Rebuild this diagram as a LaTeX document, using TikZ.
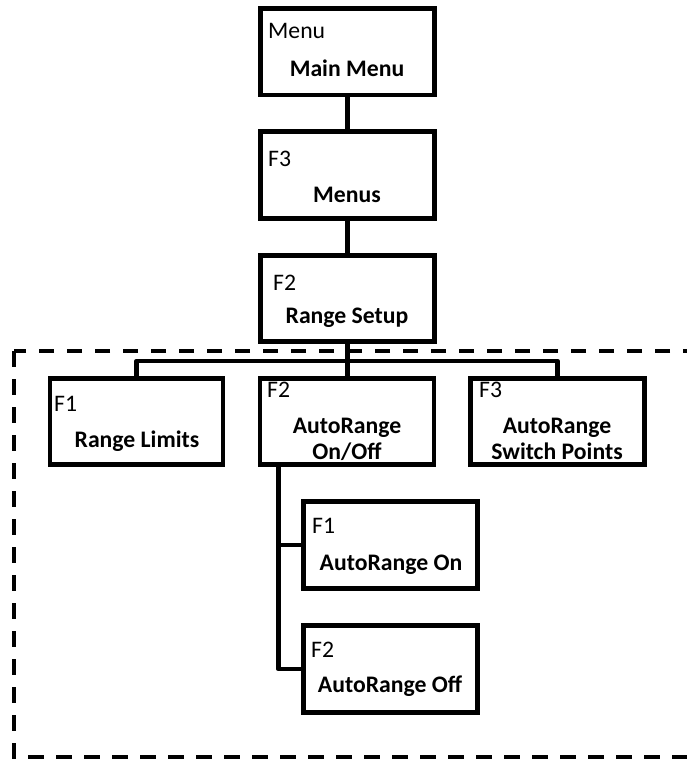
\documentclass[tikz,border=0pt]{standalone}
\usepackage{fontspec}
\setmainfont{Carlito}
\usetikzlibrary{calc}
\tikzset{
  box/.style={draw, line width=4.6pt, rectangle, minimum width=174pt, minimum height=86.5pt, inner sep=0pt},
  link/.style={line width=4.6pt, line join=round},
  frame/.style={line width=4pt, dash pattern=on 15.5pt off 12.5pt},
  tag/.style={anchor=base west, inner sep=0pt, font=\fontsize{23.7}{26}\selectfont},
  title/.style={anchor=base, inner sep=0pt, align=center, font=\fontsize{23.7}{26}\selectfont\bfseries},
}
\begin{document}
\begin{tikzpicture}[x=1pt, y=-1pt]
\useasboundingbox (0,0) rectangle (687,762);
% dashed frame
\draw[frame] (14,351) rectangle (720,757);
% boxes
\node[box] (mm) at (347.2,51.7) {};
\node[box] (menus) at (347.2,175) {};
\node[box] (rs) at (347.2,298.5) {};
\node[box, minimum width=173pt] (c1) at (136.5,421.5) {};
\node[box] (c2) at (347,421.5) {};
\node[box] (c3) at (557.5,421.5) {};
\node[box] (s1) at (390.5,545) {};
\node[box] (s2) at (390.5,669) {};
% texts
\node[tag] (mmT) at (268,39) {Menu};
\node[title] (mmN) at (347,77) {Main Menu};
\node[tag] (menusT) at (268,167) {F3};
\node[title] (menusN) at (347,202) {Menus};
\node[tag] (rsT) at (273,290) {F2};
\node[title] (rsN) at (347,323) {Range Setup};
\node[tag] (c1T) at (54,411) {F1};
\node[title] (c1N) at (137,447) {Range Limits};
\node[tag] (c2T) at (267,397) {F2};
\node[title] (c2N) at (347,459) {AutoRange\\On/Off};
\node[tag] (c3T) at (479,397) {F3};
\node[title] (c3N) at (557,459) {AutoRange\\Switch Points};
\node[tag] (s1T) at (312,533) {F1};
\node[title] (s1N) at (391,570) {AutoRange On};
\node[tag] (s2T) at (311,657) {F2};
\node[title] (s2N) at (390,692) {AutoRange Off};
% connectors
\coordinate (bus) at (347.2,361);
\coordinate (drop) at (278.3,465);
\draw[link] (mm.south) -- (menus.north);
\draw[link] (menus.south) -- (rs.north);
\draw[link] (rs.south) -- (rs.south |- c2.north);
\draw[link] (c1.north) |- (bus) -| (c3.north);
\draw[link] (drop) |- (s2.west);
\draw[link] (drop |- s1.west) -- (s1.west);
\end{tikzpicture}
\end{document}
